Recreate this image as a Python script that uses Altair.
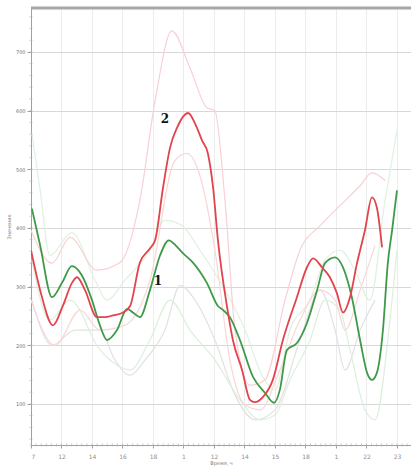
import altair as alt
import pandas as pd

# Tick labels along the time axis (one per grid step)
x_tick_labels = ["7", "12", "14", "16", "18", "1", "12", "14", "15", "18", "1", "22", "23"]
y_ticks = [100, 200, 300, 400, 500, 600, 700]

# Main curve 1 (green)
g_x = [0.03, 0.30, 0.69, 1.02, 1.34, 1.67, 2.00, 2.26, 2.49, 2.82, 3.15, 3.34, 3.57, 3.90,
       4.23, 4.52, 4.75, 4.98, 5.31, 5.77, 6.13, 6.30, 6.52, 6.85, 7.28, 7.67, 7.97, 8.16,
       8.39, 8.72, 9.05, 9.38, 9.64, 9.97, 10.23, 10.52, 10.79, 11.02, 11.18, 11.34, 11.54,
       11.70, 11.84, 12.00]
g_v = [433, 370, 282, 307, 335, 319, 277, 234, 209, 226, 262, 256, 248, 294,
       353, 379, 370, 357, 341, 306, 267, 260, 248, 209, 146, 119, 102, 124,
       192, 204, 238, 294, 340, 350, 333, 282, 209, 153, 141, 153, 226,
       340, 396, 464]

# Main curve 2 (red)
r_x = [0.00, 0.30, 0.72, 1.05, 1.34, 1.51, 1.77, 2.16, 2.43, 2.69, 3.02, 3.25, 3.57, 3.90,
       4.07, 4.33, 4.56, 4.79, 5.15, 5.38, 5.61, 5.80, 5.97, 6.13, 6.43, 6.62, 6.92, 7.18,
       7.34, 7.61, 7.93, 8.26, 8.72, 9.05, 9.25, 9.54, 9.80, 10.03, 10.23, 10.46, 10.69,
       10.95, 11.18, 11.34, 11.51]
r_v = [362, 294, 234, 268, 306, 316, 294, 248, 248, 251, 256, 267, 341, 365,
       379, 469, 537, 571, 596, 578, 549, 527, 469, 379, 265, 209, 158, 107,
       103, 112, 141, 209, 282, 333, 348, 333, 316, 289, 256, 282, 340,
       396, 452, 435, 367]

# Faint envelope curves around curve 2
ph_x = [0.00, 0.69, 1.28, 2.16, 2.92, 3.57, 4.07, 4.62, 5.21, 5.77, 6.03, 6.36, 6.69, 7.18,
        7.67, 8.33, 8.82, 9.48, 10.13, 10.79, 11.18, 11.61]
ph_v = [396, 340, 384, 328, 341, 447, 617, 736, 673, 605, 600, 447, 226, 132,
        141, 277, 362, 404, 438, 472, 494, 481]
pl_x = [0.00, 0.79, 1.61, 2.26, 3.08, 3.90, 4.72, 5.11, 5.54, 6.03, 6.52, 7.02, 7.51, 8.16,
        8.82, 9.48, 9.97, 10.30, 10.79, 11.28]
pl_v = [277, 200, 260, 226, 234, 311, 515, 527, 489, 362, 175, 98, 90, 158,
        243, 294, 277, 226, 294, 370]

# Faint envelope curves around curve 1
gh_x = [0.03, 0.30, 0.62, 1.34, 2.10, 2.49, 3.08, 3.90, 4.39, 4.95, 5.54, 6.36, 7.02, 7.57,
        8.00, 8.49, 9.15, 9.64, 10.13, 10.62, 11.11, 11.61, 12.00]
gh_v = [561, 464, 353, 392, 311, 277, 311, 362, 413, 404, 362, 294, 226, 149,
        124, 226, 277, 345, 362, 328, 277, 447, 566]
gl_x = [0.03, 0.62, 1.28, 2.26, 2.59, 3.25, 3.90, 4.56, 5.21, 6.03, 6.85, 7.51, 8.00, 8.49,
        9.15, 9.64, 10.13, 10.46, 10.95, 11.28, 11.77, 12.00]
gl_v = [345, 243, 277, 192, 175, 158, 209, 277, 226, 175, 107, 73, 81, 141,
        209, 277, 260, 192, 90, 73, 243, 362]

# Faint reference curve (gray)
k_x = [0.03, 0.69, 1.44, 2.26, 2.75, 3.25, 3.74, 4.39, 4.89, 5.38, 6.03, 6.69, 7.34, 8.00,
       8.82, 9.48, 9.97, 10.30, 10.79, 11.28]
k_v = [277, 200, 226, 226, 175, 149, 175, 226, 302, 277, 209, 115, 73, 90,
       209, 294, 226, 158, 226, 277]

# Curve number labels
lab_text = ["1", "2"]
lab_x = [4.16, 4.39]
lab_v = [309, 586]

X_DOMAIN = [0, 12.46]
Y_DOMAIN = [30, 775]

# Minor tick positions: six per hour step, five per 100 units
x_minor = [i / 6 for i in range(0, 75)]
y_minor = list(range(40, 775, 20))


def frame(name, xs, vs):
    return pd.DataFrame({"series": name, "t": xs, "v": vs})


faint = pd.concat([
    frame("gray", k_x, k_v),
    frame("green_lo", gl_x, gl_v),
    frame("green_hi", gh_x, gh_v),
    frame("red_lo", pl_x, pl_v),
    frame("red_hi", ph_x, ph_v),
])
main = pd.concat([frame("1", g_x, g_v), frame("2", r_x, r_v)])
labels = pd.DataFrame({"text": lab_text, "t": lab_x, "v": lab_v})

label_expr = "[" + ",".join(f"'{s}'" for s in x_tick_labels) + "][datum.value]"

x_scale = alt.Scale(domain=X_DOMAIN, nice=False, zero=False)
y_scale = alt.Scale(domain=Y_DOMAIN, nice=False, zero=False)

x_enc = alt.X(
    "t:Q",
    scale=x_scale,
    axis=alt.Axis(
        values=list(range(len(x_tick_labels))),
        labelExpr=label_expr,
        labelOverlap=False,
        title="Время, ч",
        titleFontSize=5,
        titleFontWeight="normal",
        titleColor="#808080",
        titlePadding=1,
        labelFontSize=6,
        labelColor="#909090",
        labelPadding=5,
        tickSize=3,
        tickColor="#a0a0a0",
        domainColor="#a0a0a0",
        gridColor="#ececec",
        gridWidth=1,
    ),
)
y_enc = alt.Y(
    "v:Q",
    scale=y_scale,
    axis=alt.Axis(
        values=y_ticks,
        labelOverlap=False,
        title="Значение",
        titleFontSize=5,
        titleFontWeight="normal",
        titleColor="#808080",
        titlePadding=4,
        labelFontSize=5,
        labelColor="#707070",
        labelPadding=2,
        tickSize=4,
        tickColor="#a0a0a0",
        domainColor="#a0a0a0",
        gridColor="#d8d8d8",
        gridWidth=1,
    ),
)

faint_colors = alt.Scale(
    domain=["gray", "green_lo", "green_hi", "red_lo", "red_hi"],
    range=["#e2e2e2", "#dcefdc", "#dff1df", "#f9d6d6", "#f9d0d3"],
)
faint_layer = (
    alt.Chart(faint)
    .mark_line(strokeWidth=1.2, interpolate="monotone", clip=True)
    .encode(
        x=x_enc,
        y=y_enc,
        color=alt.Color("series:N", scale=faint_colors, legend=None),
        detail="series:N",
    )
)

main_colors = alt.Scale(domain=["1", "2"], range=["#3f9a48", "#e2434d"])
main_layer = (
    alt.Chart(main)
    .mark_line(strokeWidth=1.8, interpolate="monotone", clip=True)
    .encode(
        x=x_enc,
        y=y_enc,
        stroke=alt.Stroke("series:N", scale=main_colors, legend=None),
        detail="series:N",
    )
)

text_layer = (
    alt.Chart(labels)
    .mark_text(font="DejaVu Serif", fontWeight="bold", fontSize=12, color="#111111")
    .encode(x=x_enc, y=y_enc, text="text:N")
)

# Heavy top border of the plot frame
top_rule = (
    alt.Chart(pd.DataFrame({"v": [Y_DOMAIN[1]]}))
    .mark_rule(color="#a8a8a8", strokeWidth=3)
    .encode(y=y_enc)
)

# Small minor ticks sitting on both axis lines
x_minor_ticks = (
    alt.Chart(pd.DataFrame({"t": x_minor, "v": Y_DOMAIN[0]}))
    .mark_tick(orient="vertical", size=3, thickness=1, color="#b0b0b0")
    .encode(x=x_enc, y=y_enc)
)
y_minor_ticks = (
    alt.Chart(pd.DataFrame({"t": X_DOMAIN[0], "v": y_minor}))
    .mark_tick(orient="horizontal", size=3, thickness=1, color="#b0b0b0")
    .encode(x=x_enc, y=y_enc)
)

chart = (
    alt.layer(faint_layer, main_layer, text_layer, top_rule, x_minor_ticks, y_minor_ticks)
    .resolve_scale(color="independent", stroke="independent")
    .properties(
        width=380,
        height=437,
        autosize=alt.AutoSizeParams(type="none"),
        padding={"left": 31, "top": 8, "right": 0, "bottom": 30},
        background="white",
    )
    .configure_view(stroke=None)
    .configure_axis(labelFont="DejaVu Sans", titleFont="DejaVu Sans")
)

chart.save("out.html", embed_options={"renderer": "svg", "actions": False})
